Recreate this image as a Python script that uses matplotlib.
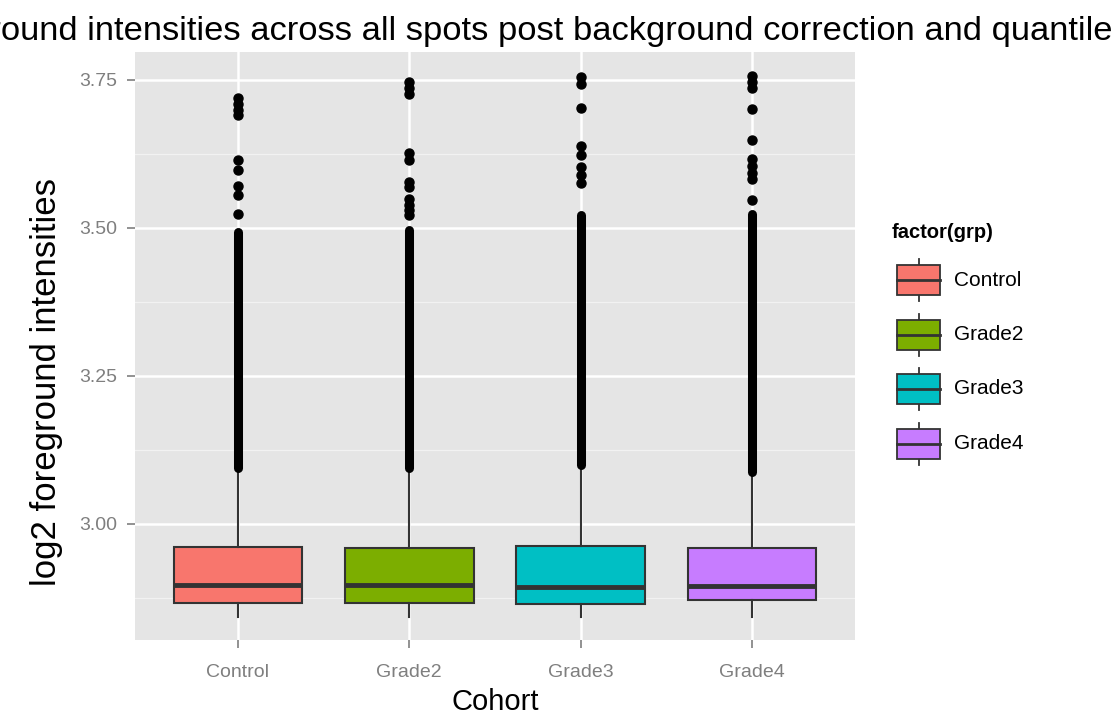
import numpy as np
import matplotlib.pyplot as plt
from matplotlib.patches import Rectangle
from matplotlib.ticker import FixedLocator

plt.rcParams['font.family'] = ['Liberation Sans', 'DejaVu Sans']

groups = ['Control', 'Grade2', 'Grade3', 'Grade4']
colors = ['#F8766D', '#7CAE00', '#00BFC4', '#C77CFF']

# box statistics
q1 = [2.867, 2.867, 2.865, 2.872]
med = [2.897, 2.897, 2.894, 2.895]
q3 = [2.961, 2.960, 2.963, 2.959]
whisk_lo = [2.843, 2.843, 2.843, 2.843]
whisk_hi = [3.090, 3.090, 3.095, 3.085]

# outliers so packed between these two values that they print as a solid bar
dense_lo = [3.095, 3.095, 3.100, 3.088]
dense_hi = [3.493, 3.497, 3.522, 3.524]

# the loose outliers above the bar
out_control = [3.524, 3.556, 3.571, 3.598, 3.615, 3.691, 3.699, 3.709, 3.720]
out_grade2 = [3.522, 3.530, 3.539, 3.549, 3.569, 3.578, 3.615, 3.627, 3.726, 3.736, 3.747]
out_grade3 = [3.576, 3.590, 3.603, 3.623, 3.638, 3.703, 3.743, 3.755]
out_grade4 = [3.547, 3.583, 3.593, 3.605, 3.617, 3.649, 3.701, 3.736, 3.747, 3.757]
outliers = [out_control, out_grade2, out_grade3, out_grade4]

yticks = [3.00, 3.25, 3.50, 3.75]
yminor = [2.875, 3.125, 3.375, 3.625]

W, H = 1115, 717
fig = plt.figure(figsize=(W / 100, H / 100), dpi=100)
ax = fig.add_axes([135 / W, 1 - 640 / H, 720 / W, 588 / H])
ax.set_facecolor('#E5E5E5')
for s in ax.spines.values():
    s.set_visible(False)

pos = np.arange(1, len(groups) + 1)
stats = []
for i in range(len(groups)):
    stats.append({'med': med[i], 'q1': q1[i], 'q3': q3[i],
                  'whislo': whisk_lo[i], 'whishi': whisk_hi[i],
                  'fliers': outliers[i]})

bp = ax.bxp(stats, positions=pos, widths=0.75, patch_artist=True,
            showcaps=False, manage_ticks=False,
            boxprops=dict(edgecolor='#333333', linewidth=1.5),
            whiskerprops=dict(color='#333333', linewidth=1.5),
            medianprops=dict(color='#333333', linewidth=3.5, solid_capstyle='butt'),
            flierprops=dict(marker='o', markersize=6.5, markerfacecolor='black',
                            markeredgecolor='black', linestyle='none'))
for patch, c in zip(bp['boxes'], colors):
    patch.set_facecolor(c)
for p in bp['boxes'] + bp['medians'] + bp['whiskers'] + bp['fliers']:
    p.set_zorder(3)

for x, lo, hi in zip(pos, dense_lo, dense_hi):
    ax.plot([x, x], [lo, hi], color='black', linewidth=6.5,
            solid_capstyle='round', zorder=4)

ax.set_xlim(0.4, 4.6)
ax.set_ylim(2.804, 3.797)
ax.set_xticks(pos)
ax.set_xticklabels(groups)
ax.set_yticks(yticks)
ax.set_yticklabels(['%.2f' % v for v in yticks])
ax.yaxis.set_minor_locator(FixedLocator(yminor))
ax.tick_params(which='major', direction='out', length=6, width=1.2,
               color='#7F7F7F', labelcolor='#7F7F7F', labelsize=14)
ax.tick_params(axis='x', pad=11)
ax.tick_params(axis='y', pad=7)
ax.tick_params(which='minor', length=0)
ax.grid(which='major', color='white', linewidth=1.8, zorder=0)
ax.grid(which='minor', axis='y', color='#F2F2F2', linewidth=0.9, zorder=0)
ax.set_axisbelow(True)

ax.set_xlabel('Cohort', fontsize=21, labelpad=5)
ax.set_ylabel('log2 foreground intensities', fontsize=25)
ax.yaxis.set_label_coords((63 - 135) / 720, (640 - 382) / 588)

# title is wider than the image, so both ends are clipped
title = 'Foreground intensities across all spots post background correction and quantile normalization'
tsize = 24.8
fig.canvas.draw()
r = fig.canvas.get_renderer()
probe = fig.text(0, 0, 'Foregr', fontsize=tsize)
pw = probe.get_window_extent(r).width
probe.remove()
fig.text((1 - pw) / W, 1 - 40 / H, title, fontsize=tsize, ha='left', va='baseline')

# legend drawn by hand in pixel space, ggplot style
lax = fig.add_axes([0, 0, 1, 1], facecolor='none')
lax.set_xlim(0, W)
lax.set_ylim(H, 0)
lax.axis('off')
lax.text(892, 233, 'factor(grp)', fontsize=14.5, fontweight='bold', va='center')
for i, (g, c) in enumerate(zip(groups, colors)):
    cy = 280 + i * 54.5
    lax.plot([918.5, 918.5], [cy - 21, cy + 21], color='#333333', linewidth=1.3)
    lax.add_patch(Rectangle((897, cy - 15), 43, 30, facecolor=c,
                            edgecolor='#333333', linewidth=1.3, zorder=3))
    lax.plot([897, 940], [cy, cy], color='#333333', linewidth=2, zorder=4)
    lax.text(954, cy, g, fontsize=15, va='center')

fig.savefig('out.png', dpi=100)
